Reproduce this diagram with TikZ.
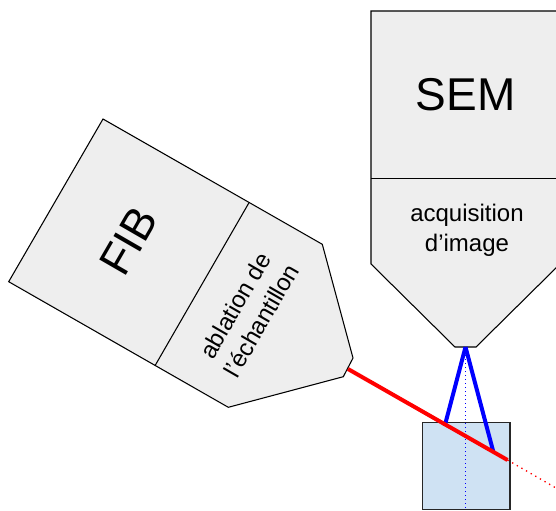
\documentclass[tikz,border=0pt]{standalone}
\usepackage{fontspec}
\setmainfont{Liberation Sans}
\tikzset{
  body/.style={draw=black,line width=0.8pt,fill=bodygrey,line join=miter},
  divider/.style={draw=black,line width=0.8pt},
  big/.style={font=\fontsize{34.5}{40}\selectfont,inner sep=0pt},
  small/.style={font=\fontsize{18}{22.5}\selectfont,align=center,inner sep=0pt},
  redbeam/.style={draw=beamred,line width=3pt},
  bluebeam/.style={draw=beamblue,line width=3pt},
  reddots/.style={draw=beamred,line width=1pt,dash pattern=on 1pt off 3pt},
  bluedots/.style={draw=beamblue,line width=1pt,dash pattern=on 1pt off 2pt},
  samplebox/.style={draw=black!85,line width=1.1pt,fill=samplefill}
}
\definecolor{bodygrey}{HTML}{EEEEEE}
\definecolor{samplefill}{HTML}{CFE2F3}
\definecolor{beamred}{HTML}{FF0000}
\definecolor{beamblue}{HTML}{0000FF}
\begin{document}
\begin{tikzpicture}[x=0.75pt,y=-0.75pt]
\clip (0,0) rectangle (556,510);
% named points
\coordinate (semsplitL) at (371,178.5);
\coordinate (semsplitR) at (560,178.5);
\coordinate (fibsplitT) at (249,202.7);
\coordinate (fibsplitB) at (155,365.7);
\coordinate (apex) at (465.5,347);
\coordinate (redstart) at (348,369);
\coordinate (redend) at (507.5,460);
\coordinate (redfar) at (556,488);
\coordinate (hitL) at (444.7,426);
\coordinate (hitR) at (493.3,451.7);
\coordinate (axisend) at (465.5,508);
% sample
\node[samplebox,minimum width=65.7pt,minimum height=65.3pt,inner sep=0pt,anchor=north west] (sample) at (421.7,421.7) {};
% SEM
\draw[body] (371,11) -- (560,11) -- (560,264) -- (476,347) -- (455,347) -- (371,264) -- cycle;
\draw[divider] (semsplitL) -- (semsplitR);
\node[big] (semlabel) at (465.5,95) {SEM};
\node[small] (semtext) at (467,230.5) {acquisition\\d’image};
% FIB
\draw[body] (103,119) -- (322.3,244.3) -- (353,358) -- (343.3,376.7) -- (228.3,407.3) -- (8.7,281.7) -- cycle;
\draw[divider] (fibsplitT) -- (fibsplitB);
\node[big,font=\fontsize{33.5}{40}\selectfont,rotate=60] (fiblabel) at (129,241) {FIB};
\node[small,rotate=60] (fibtext) at (248,313) {ablation de\\l'échantillon};
% beams
\draw[bluedots] (apex) -- (axisend);
\draw[reddots] (redend) -- (redfar);
\draw[bluebeam] (apex) -- (hitL);
\draw[bluebeam] (apex) -- (hitR);
\draw[redbeam] (redstart) -- (redend);
\end{tikzpicture}
\end{document}
